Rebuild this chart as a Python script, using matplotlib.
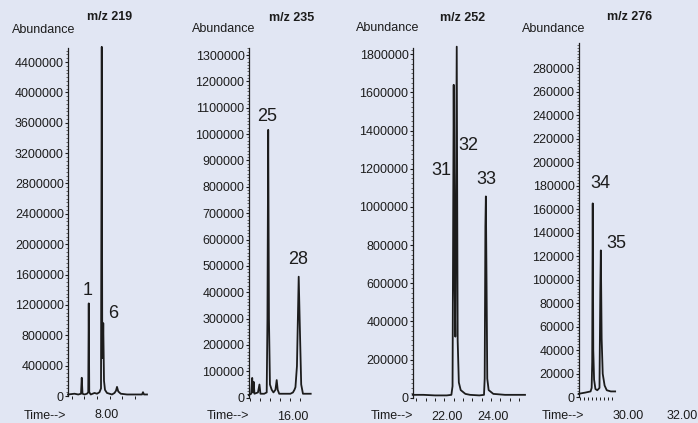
import numpy as np
import matplotlib
matplotlib.use("Agg")
import matplotlib.pyplot as plt
from matplotlib.ticker import FixedLocator, AutoMinorLocator

plt.rcParams['font.family'] = ['Liberation Sans', 'DejaVu Sans']

W, H = 698, 423
BG = '#e1e6f3'
INK = '#1c1c1c'

# ---- data (time in min, abundance) ----
mz_219_t = [6.44, 6.70, 6.85, 6.96, 6.99, 7.02, 7.10, 7.20, 7.25, 7.27, 7.29, 7.35, 7.50, 7.60,
            7.70, 7.76, 7.79, 7.81, 7.83, 7.85, 7.88, 7.92, 8.00, 8.10, 8.20, 8.30, 8.36, 8.40,
            8.45, 8.55, 8.80, 9.00, 9.20, 9.40, 9.44, 9.48, 9.60]
mz_219_y = [0.02, 0.03, 0.02, 0.03, 0.24, 0.03, 0.02, 0.03, 0.05, 1.22, 0.05, 0.02, 0.04, 0.03,
            0.05, 0.10, 4.60, 0.60, 0.50, 0.96, 0.20, 0.08, 0.04, 0.03, 0.02, 0.04, 0.07, 0.12,
            0.06, 0.03, 0.02, 0.02, 0.02, 0.02, 0.05, 0.02, 0.02]

mz_235_t = [14.23, 14.33, 14.37, 14.40, 14.43, 14.46, 14.60, 14.66, 14.70, 14.85, 14.95, 14.98,
            15.01, 15.04, 15.08, 15.15, 15.22, 15.30, 15.35, 15.39, 15.45, 15.70, 15.90, 16.00,
            16.06, 16.10, 16.16, 16.23, 16.28, 16.33, 16.40, 16.71]
mz_235_y = [0.010, 0.015, 0.075, 0.020, 0.060, 0.015, 0.020, 0.050, 0.015, 0.015, 0.020, 0.300,
            1.016, 0.300, 0.050, 0.030, 0.020, 0.030, 0.067, 0.030, 0.015, 0.015, 0.015, 0.020,
            0.030, 0.040, 0.120, 0.459, 0.250, 0.050, 0.015, 0.015]

mz_252_t = [20.54, 21.00, 21.50, 22.00, 22.20, 22.25, 22.30, 22.34, 22.37, 22.43, 22.47, 22.52,
            22.60, 22.80, 23.00, 23.40, 23.60, 23.63, 23.66, 23.68, 23.71, 23.74, 23.80, 24.00,
            24.50, 25.36]
mz_252_y = [0.015, 0.015, 0.012, 0.012, 0.015, 0.060, 1.640, 0.600, 0.320, 1.840, 0.300, 0.080,
            0.040, 0.020, 0.015, 0.012, 0.015, 0.100, 0.900, 1.055, 0.600, 0.100, 0.040, 0.020,
            0.015, 0.015]

mz_276_t = [28.16, 28.40, 28.60, 28.64, 28.66, 28.68, 28.70, 28.73, 28.78, 28.85, 28.93, 28.96,
            28.98, 29.01, 29.05, 29.12, 29.20, 29.35, 29.51]
mz_276_y = [0.003, 0.004, 0.005, 0.008, 0.030, 0.165, 0.040, 0.015, 0.007, 0.006, 0.008, 0.090,
            0.125, 0.050, 0.020, 0.010, 0.006, 0.005, 0.005]

peak_labels = [['1', '6'], ['25', '28'], ['31', '32', '33'], ['34', '35']]
peak_times = [[7.27, 7.85], [15.01, 16.23], [22.30, 22.43, 23.68], [28.68, 28.98]]
peak_heights = [[1.22, 0.96], [1.016, 0.459], [1.64, 1.84, 1.055], [0.165, 0.125]]

titles = ['m/z 219', 'm/z 235', 'm/z 252', 'm/z 276']
time_ticks = [[8.00], [16.00], [22.00, 24.00], [30.00, 32.00]]
y_ticks = [np.arange(0, 4400001, 400000), np.arange(0, 1300001, 100000),
           np.arange(0, 1800001, 200000), np.arange(0, 280001, 20000)]

traces = [(mz_219_t, mz_219_y), (mz_235_t, mz_235_y), (mz_252_t, mz_252_y), (mz_276_t, mz_276_y)]

# ---- layout (pixels) ----
boxes = [(68, 48, 147, 396), (248.7, 48, 310.7, 397.7), (412.7, 48, 525, 397.7), (578.7, 43, 698, 397.3)]
xlims = [(6.44, 9.60), (14.23, 16.71), (20.54, 25.36), (28.16, 32.58)]
ytops = [4.585e6, 1.3266e6, 1.833e6, 0.3015e6]
minor_x = [np.arange(6.6, 9.6, 0.5), np.arange(14.3, 16.7, 0.4), np.arange(20.7, 25.36, 0.4),
           np.arange(28.2, 29.5, 0.15)]
label_offsets = [[(-1, 13), (10, 10)], [(-1, 13), (-1, 17)],
                 [(-12, -86), (12, -99), (0, 17)], [(8, 20), (16, 7)]]
abund_pos = [(44, 30), (224, 29), (388, 28), (554, 29)]
title_pos = [(110, 17), (292, 18), (463, 18), (630, 17)]
time_pos = [(45, 416), (228, 416), (392, 416), (563, 416)]

fig = plt.figure(figsize=(W / 100, H / 100), dpi=100, facecolor=BG)

for i in range(4):
    x0, y0, x1, y1 = boxes[i]
    ax = fig.add_axes([x0 / W, 1 - y1 / H, (x1 - x0) / W, (y1 - y0) / H])
    ax.set_facecolor('none')
    t, y = traces[i]
    ax.plot(t, np.array(y) * 1e6, color=INK, lw=1.3, clip_on=False)
    ax.set_xlim(*xlims[i])
    ax.set_ylim(0, ytops[i])

    for s in ['top', 'right', 'bottom']:
        ax.spines[s].set_visible(False)
    ax.spines['left'].set_color(INK)
    ax.spines['left'].set_linewidth(0.9)

    ax.set_yticks(y_ticks[i])
    ax.set_yticklabels([str(v) for v in y_ticks[i]])
    ax.yaxis.set_minor_locator(AutoMinorLocator(8))
    ax.tick_params(axis='y', which='major', length=2.5, width=0.8, pad=0.5,
                   labelsize=9, colors=INK)
    ax.tick_params(axis='y', which='minor', length=1.2, width=0.6, colors='#555555')

    ax.set_xticks(time_ticks[i])
    ax.set_xticklabels(['%.2f' % v for v in time_ticks[i]])
    ax.xaxis.set_minor_locator(FixedLocator(minor_x[i]))
    ax.tick_params(axis='x', which='major', length=0, pad=9.5, labelsize=9, colors=INK)
    ax.tick_params(axis='x', which='minor', length=2.5, width=0.7, colors=INK)

    for lab, pt, ph, off in zip(peak_labels[i], peak_times[i], peak_heights[i], label_offsets[i]):
        ax.annotate(lab, (pt, ph * 1e6), xytext=off, textcoords='offset pixels',
                    ha='center', va='center', fontsize=13, color=INK, annotation_clip=False)

    fig.text(abund_pos[i][0] / W, 1 - abund_pos[i][1] / H, 'Abundance', ha='center',
             va='center', fontsize=9, color=INK)
    fig.text(title_pos[i][0] / W, 1 - title_pos[i][1] / H, titles[i], ha='center',
             va='center', fontsize=9, fontweight='bold', color=INK)
    fig.text(time_pos[i][0] / W, 1 - time_pos[i][1] / H, 'Time-->', ha='center',
             va='center', fontsize=9, color=INK)

fig.savefig('out.png', dpi=100, facecolor=BG)
